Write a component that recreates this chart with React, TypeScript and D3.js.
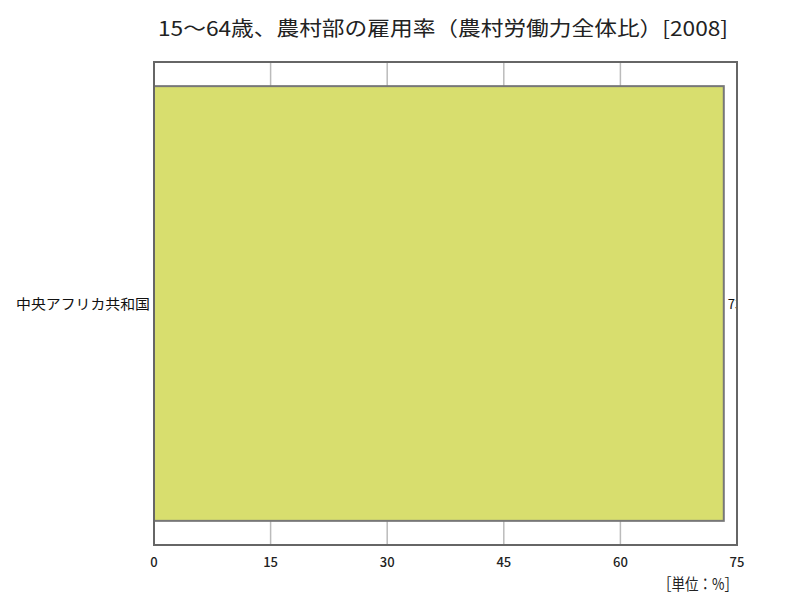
import { useEffect, useRef } from "react";
import * as d3 from "d3";

const title = "15～64歳、農村部の雇用率（農村労働力全体比）[2008]";
const categories = ["中央アフリカ共和国"];
const values = [73.3];
const xTicks = [0, 15, 30, 45, 60, 75];
const unitLabel = "［単位：%］";

const App = () => {
  const svgRef = useRef<SVGSVGElement | null>(null);

  useEffect(() => {
    if (!svgRef.current) return;
    const width = 800;
    const height = 600;
    const margin = { top: 62, right: 63, bottom: 55, left: 154 };
    const font = "'Noto Sans CJK JP', sans-serif";

    const svg = d3.select(svgRef.current);
    svg.selectAll("*").remove();
    svg.attr("width", width).attr("height", height).attr("viewBox", [0, 0, width, height]);

    const x = d3
      .scaleLinear()
      .domain([0, 75])
      .range([margin.left, width - margin.right]);
    const y = d3
      .scaleBand()
      .domain(categories)
      .range([margin.top, height - margin.bottom])
      .paddingInner(0.1)
      .paddingOuter(0.05);

    svg
      .append("text")
      .attr("x", 158)
      .attr("y", 36)
      .attr("font-family", font)
      .attr("font-size", 20)
      .attr("textLength", 570)
      .attr("lengthAdjust", "spacingAndGlyphs")
      .attr("fill", "#222")
      .text(title);

    svg
      .append("clipPath")
      .attr("id", "plot-clip")
      .append("rect")
      .attr("x", margin.left)
      .attr("y", margin.top)
      .attr("width", width - margin.left - margin.right)
      .attr("height", height - margin.top - margin.bottom);

    // grid lines
    svg
      .append("g")
      .selectAll("line")
      .data(xTicks.slice(1, -1))
      .join("line")
      .attr("x1", (d) => x(d))
      .attr("x2", (d) => x(d))
      .attr("y1", margin.top)
      .attr("y2", height - margin.bottom)
      .attr("stroke", "#bbb")
      .attr("stroke-width", 1.5);

    const plot = svg.append("g").attr("clip-path", "url(#plot-clip)");

    plot
      .selectAll("rect")
      .data(values)
      .join("rect")
      .attr("x", x(0))
      .attr("y", (_, i) => y(categories[i])!)
      .attr("width", (d) => x(d) - x(0))
      .attr("height", y.bandwidth())
      .attr("fill", "#d8de6e")
      .attr("stroke", "#777")
      .attr("stroke-width", 2);

    plot
      .selectAll("text")
      .data(values)
      .join("text")
      .attr("x", (d) => x(d) + 4)
      .attr("y", (_, i) => y(categories[i])! + y.bandwidth() / 2 + 5)
      .attr("font-family", font)
      .attr("font-size", 13)
      .attr("fill", "#111")
      .text((d) => d.toFixed(1));

    // frame
    svg
      .append("rect")
      .attr("x", margin.left)
      .attr("y", margin.top)
      .attr("width", width - margin.left - margin.right)
      .attr("height", height - margin.top - margin.bottom)
      .attr("fill", "none")
      .attr("stroke", "#666")
      .attr("stroke-width", 2);

    svg
      .append("g")
      .selectAll("text")
      .data(categories)
      .join("text")
      .attr("x", margin.left - 4)
      .attr("y", (d) => y(d)! + y.bandwidth() / 2 + 5)
      .attr("text-anchor", "end")
      .attr("font-family", font)
      .attr("font-size", 14)
      .attr("textLength", 134)
      .attr("lengthAdjust", "spacingAndGlyphs")
      .attr("fill", "#111")
      .text((d) => d);

    svg
      .append("g")
      .selectAll("text")
      .data(xTicks)
      .join("text")
      .attr("x", (d) => x(d))
      .attr("y", 567)
      .attr("text-anchor", "middle")
      .attr("font-family", font)
      .attr("font-size", 13)
      .attr("font-weight", 500)
      .attr("fill", "#222")
      .text((d) => d);

    svg
      .append("text")
      .attr("x", 738)
      .attr("y", 590)
      .attr("text-anchor", "end")
      .attr("font-family", font)
      .attr("font-size", 16)
      .attr("textLength", 80)
      .attr("lengthAdjust", "spacingAndGlyphs")
      .attr("fill", "#222")
      .text(unitLabel);
  }, []);

  return (
    <div style={{ position: "absolute", left: 0, top: 0 }}>
      <svg ref={svgRef}></svg>
    </div>
  );
};

export default App;
